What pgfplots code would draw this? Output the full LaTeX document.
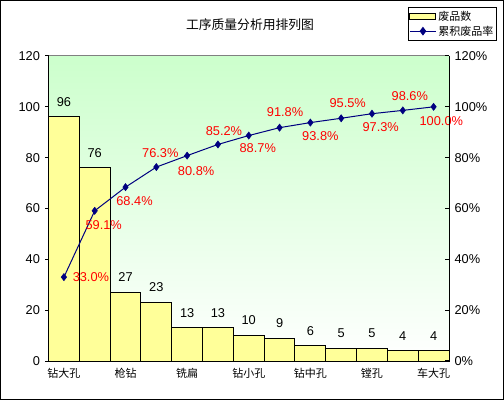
\documentclass[border=0pt]{standalone}
\usepackage{fontspec}
\setmainfont{Liberation Sans}
\newfontfamily\cjk{Noto Sans CJK SC}
\usepackage{pgfplots}
\pgfplotsset{compat=1.18}
\usepackage{pgfplotstable}
\definecolor{baryellow}{RGB}{255,255,153}
\definecolor{bggreen}{RGB}{204,255,204}
\definecolor{navyblue}{RGB}{0,0,128}

\pgfplotstableread{
x y
0 96
1 76
2 27
3 23
4 13
5 13
6 10
7 9
8 6
9 5
10 5
11 4
12 4
}\bars

\pgfplotstableread{
x y dx dy
0 33.0 27 0
1 59.1 9 -14
2 68.4 9 -14
3 76.3 4 14
4 80.8 9 -15
5 85.2 6 13.5
6 88.7 9 -13
7 91.8 5.5 15.5
8 93.8 10 -13.5
9 95.5 6.5 15.5
10 97.3 8.7 -13.8
11 98.6 7 14
12 100.0 7.7 -14
}\cum

\newcommand{\numfont}{\fontsize{12.8bp}{15bp}\selectfont}
\newcommand{\cjkfont}{\cjk\fontsize{11bp}{13bp}\selectfont}

\begin{document}
\begin{tikzpicture}
\path (0,0) rectangle (504bp,400bp);
\draw[line width=1.2bp] (0.6bp,0.6bp) rectangle (503.4bp,399.4bp);
\node[font=\cjk\fontsize{12.8bp}{15bp}\selectfont] at (250bp,375bp) {工序质量分析用排列图};

\begin{axis}[
  at={(48.5bp,39bp)}, anchor=south west,
  scale only axis, width=400.5bp, height=305bp,
  xmin=-0.5, xmax=12.5, ymin=0, ymax=120,
  clip=false,
  axis background/.style={top color=bggreen, bottom color=white},
  axis x line*=bottom, axis y line*=left,
  axis line style={-, line width=1bp, black},
  ytick={0,20,...,120},
  xtick={0,2,...,12},
  xticklabels={钻大孔,枪钻,铣扁,钻小孔,钻中孔,镗孔,车大孔},
  xticklabel style={font=\cjkfont, yshift=-4bp},
  x tick style={draw=none},
  y tick style={line width=1bp, black},
  ytick align=outside, major tick length=3.5bp,
  yticklabel style={font=\numfont, xshift=-1.5bp},
  /pgf/number format/assume math mode=true,
  legend style={at={(axis description cs:1.1197,1.1607)}, anchor=north east,
    draw=black, line width=1bp, font=\cjkfont, inner xsep=1bp, inner ysep=1.5bp,
    row sep=0bp, cells={anchor=west}},
  legend cell align=left,
]
\addplot[ybar, bar width=1, fill=baryellow, draw=black, line width=1bp,
  nodes near coords,
  nodes near coords style={font=\numfont, anchor=center, yshift=15bp, text=black},
  legend image code/.code={\draw[fill=baryellow, draw=black, line width=1bp] (0bp,-3bp) rectangle (26bp,3bp);}
] table[x=x,y=y]{\bars};
\addlegendentry{废品数}
\addplot[navyblue, line width=1bp, mark=diamond*, mark size=3.6bp, mark options={fill=navyblue, line width=0.5bp},
  point meta=explicit,
  visualization depends on={\thisrow{dx}\as\dx},
  visualization depends on={\thisrow{dy}\as\dy},
  nodes near coords={\pgfmathprintnumber[fixed,fixed zerofill,precision=1]{\pgfplotspointmeta}\%},
  nodes near coords style={font=\numfont, text=red, anchor=center, xshift={\dx*1bp}, yshift={\dy*1bp}},
  legend image code/.code={\draw[navyblue, line width=1bp] (0bp,0bp) -- (26bp,0bp); \fill[navyblue] (13bp,3.6bp) -- (15.7bp,0bp) -- (13bp,-3.6bp) -- (10.3bp,0bp) -- cycle;}
] table[x=x,y=y,meta=y]{\cum};
\addlegendentry{累积废品率}
\draw[gray, line width=1bp] (rel axis cs:0,1) -- (rel axis cs:1,1);
\end{axis}

\begin{axis}[
  at={(48.5bp,39bp)}, anchor=south west,
  scale only axis, width=400.5bp, height=305bp,
  xmin=-0.5, xmax=12.5, ymin=0, ymax=120,
  axis x line=none, axis y line*=right,
  axis line style={-, line width=1bp, black},
  ytick={0,20,...,120},
  yticklabel={\pgfmathprintnumber{\tick}\%},
  y tick style={line width=1bp, black},
  ytick align=inside, major tick length=4bp,
  yticklabel style={font=\numfont, xshift=2bp},
  /pgf/number format/assume math mode=true,
]
\end{axis}
\end{tikzpicture}
\end{document}
